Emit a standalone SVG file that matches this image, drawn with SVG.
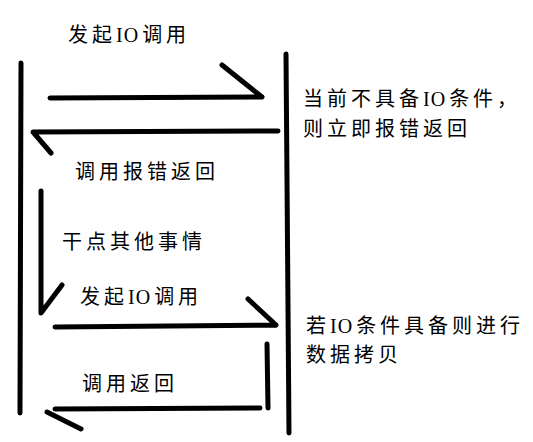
<svg xmlns="http://www.w3.org/2000/svg" width="533" height="442" viewBox="0 0 533 442">
<style>
.ln{fill:none;stroke:#000;stroke-width:5;stroke-linecap:round;stroke-linejoin:round}
.t{font-family:"Noto Sans CJK SC","Liberation Serif",sans-serif;font-size:20px;letter-spacing:4px;fill:#000}
.s{font-family:"Liberation Serif",serif;letter-spacing:1px}
.o{font-family:"Liberation Serif",serif}
</style>
<rect width="533" height="442" fill="#fff"/>
<g id="lifeline-left"><path class="ln" d="M21 63 L20 413"/></g>
<g id="lifeline-right"><path class="ln" d="M286 54 L289 433"/></g>
<g id="connectors">
<path class="ln" d="M50 98 L262 97 M222 65 L262 97"/>
<path class="ln" d="M278 131 L33 132 L51 153"/>
<path class="ln" d="M41 191 L41 313 L62 285"/>
<path class="ln" d="M55 327 L276 325 M248 299 L276 325"/>
<path class="ln" d="M267 344 L268 408"/>
<path class="ln" d="M260 408 L55 409 M47 412 L81 429"/>
</g>
<g id="labels">
<text class="t" x="68" y="41.5">发起<tspan class="s">I</tspan><tspan class="o">O</tspan>调用</text>
<text class="t" x="75" y="178.5">调用报错返回</text>
<text class="t" x="62" y="248.5">干点其他事情</text>
<text class="t" x="80" y="303.5">发起<tspan class="s">I</tspan><tspan class="o">O</tspan>调用</text>
<text class="t" x="82" y="391">调用返回</text>
<text class="t" x="303" y="105.5">当前不具备<tspan class="s">I</tspan><tspan class="o">O</tspan>条件，</text>
<text class="t" x="303" y="135.5">则立即报错返回</text>
<text class="t" x="306" y="332.5">若<tspan class="s">I</tspan><tspan class="o">O</tspan>条件具备则进行</text>
<text class="t" x="306" y="361.5">数据拷贝</text>
</g>
</svg>
